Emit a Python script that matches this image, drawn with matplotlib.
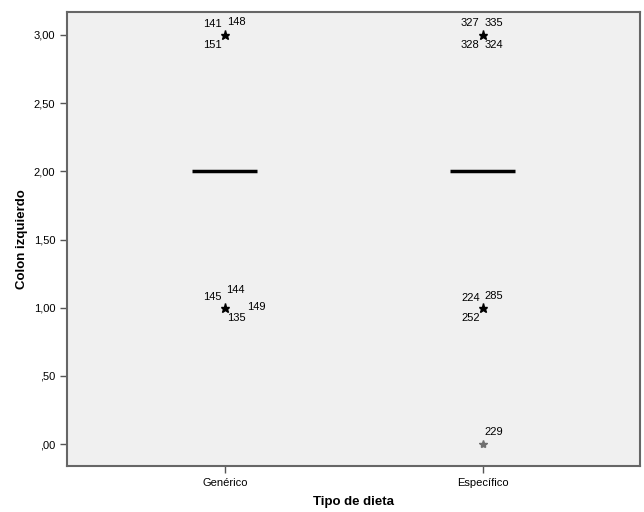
import matplotlib
matplotlib.use("Agg")
import matplotlib.pyplot as plt

plt.rcParams['font.family'] = ['Liberation Sans', 'DejaVu Sans']

categories = ["Genérico", "Específico"]
medians = [2.0, 2.0]
# extreme values per group: (value, case labels)
extremes_gen = [3.0, 1.0]
extremes_gen_labels = [["141", "148", "151"], ["145", "144", "149", "135"]]
extremes_esp = [3.0, 1.0]
extremes_esp_labels = [["327", "335", "328", "324"], ["224", "285", "252"]]
outliers_esp = [0.0]
outliers_esp_labels = [["229"]]

yticks = [0, 0.5, 1.0, 1.5, 2.0, 2.5, 3.0]
yticklabels = [",00", ",50", "1,00", "1,50", "2,00", "2,50", "3,00"]

# label offsets in pixels (dx, dy) for each group of case numbers
offs_gen = [[(-13, 11), (11, 13), (-13, -10)],
            [(-13, 11), (10, 18), (31, 1), (11, -10)]]
offs_esp = [[(-13, 12), (11, 12), (-13, -10), (11, -10)],
            [(-12, 10), (11, 12), (-12, -10)]]
offs_out = [[(11, 12)]]

fig = plt.figure(figsize=(6.44, 5.12), dpi=100)
ax = fig.add_axes([0.104, 0.0898, 0.890, 0.8858])
ax.set_facecolor('#f0f0f0')

for i, m in enumerate(medians):
    ax.hlines(m, i - 0.126, i + 0.126, color='black', lw=2.5)

def draw(xpos, vals, labs, offs, color, size):
    for v, ls, os in zip(vals, labs, offs):
        ax.plot(xpos, v, marker='*', color=color, markersize=size, ls='none')
        for t, (dx, dy) in zip(ls, os):
            ax.annotate(t, (xpos, v), xytext=(dx, dy), textcoords='offset pixels',
                        ha='center', va='center', fontsize=8)

draw(0, extremes_gen, extremes_gen_labels, offs_gen, 'black', 6.5)
draw(1, extremes_esp, extremes_esp_labels, offs_esp, 'black', 6.5)
draw(1, outliers_esp, outliers_esp_labels, offs_out, '#707070', 6)

ax.set_xlim(-0.612, 1.609)
ax.set_ylim(-0.161, 3.165)
ax.set_xticks(range(len(categories)))
ax.set_xticklabels(categories, fontsize=8)
ax.set_yticks(yticks)
ax.set_yticklabels(yticklabels, fontsize=8)
ax.tick_params(length=5, color='#555555', width=1)
for s in ax.spines.values():
    s.set_color('#666666')
    s.set_linewidth(1.5)

ax.set_xlabel("Tipo de dieta", fontsize=9.5, fontweight='bold', labelpad=6)
ax.set_ylabel("Colon izquierdo", fontsize=9.5, fontweight='bold', labelpad=4)

fig.savefig("out.png", dpi=100, facecolor='white')
